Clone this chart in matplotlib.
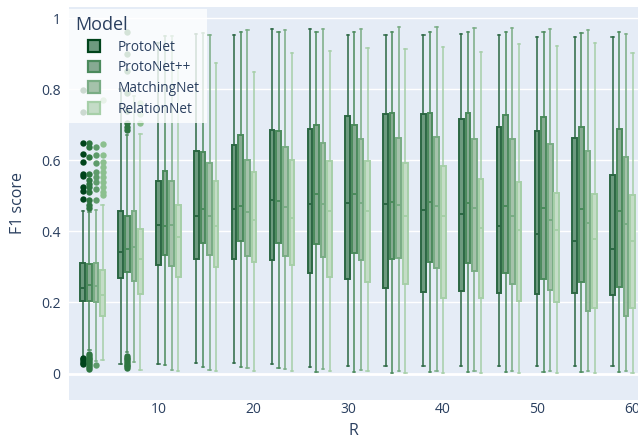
import matplotlib
matplotlib.use("Agg")
import matplotlib.pyplot as plt
from matplotlib.patches import Patch, Rectangle
from matplotlib.legend_handler import HandlerPatch

plt.rcParams["font.family"] = ["Open Sans", "DejaVu Sans"]

# values (F1 score per R, one box per model)
R = [3, 7, 11, 15, 19, 23, 27, 31, 35, 39, 43, 47, 51, 55, 59]
models = ["ProtoNet", "ProtoNet++", "MatchingNet", "RelationNet"]

lo = {
    "ProtoNet":    [0.048, 0.027, 0.027, 0.030, 0.029, 0.027, 0.018, 0.020, 0.020, 0.020, 0.020, 0.020, 0.020, 0.020, 0.020],
    "ProtoNet++":  [0.065, 0.060, 0.023, 0.018, 0.018, 0.015, 0.004, 0.004, 0.003, 0.004, 0.004, 0.004, 0.004, 0.004, 0.004],
    "MatchingNet": [0.035, 0.032, 0.010, 0.010, 0.015, 0.014, 0.014, 0.011, 0.008, 0.008, 0.006, 0.006, 0.006, 0.006, 0.006],
    "RelationNet": [0.037, 0.010, 0.008, 0.008, 0.006, 0.008, 0.008, 0.006, 0.003, 0.003, 0.002, 0.001, 0.001, 0.001, 0.001],
}
q1 = {
    "ProtoNet":    [0.205, 0.270, 0.306, 0.323, 0.323, 0.320, 0.284, 0.267, 0.241, 0.229, 0.232, 0.226, 0.224, 0.226, 0.222],
    "ProtoNet++":  [0.205, 0.285, 0.334, 0.368, 0.372, 0.368, 0.364, 0.340, 0.321, 0.315, 0.312, 0.283, 0.267, 0.259, 0.243],
    "MatchingNet": [0.200, 0.261, 0.304, 0.334, 0.330, 0.331, 0.328, 0.320, 0.326, 0.297, 0.288, 0.253, 0.234, 0.177, 0.161],
    "RelationNet": [0.163, 0.224, 0.272, 0.301, 0.314, 0.306, 0.271, 0.257, 0.253, 0.213, 0.213, 0.204, 0.201, 0.185, 0.185],
}
med = {
    "ProtoNet":    [0.241, 0.343, 0.419, 0.444, 0.464, 0.489, 0.478, 0.481, 0.476, 0.461, 0.448, 0.416, 0.393, 0.372, 0.351],
    "ProtoNet++":  [0.250, 0.351, 0.416, 0.464, 0.472, 0.486, 0.504, 0.504, 0.483, 0.484, 0.480, 0.471, 0.467, 0.464, 0.456],
    "MatchingNet": [0.246, 0.356, 0.419, 0.442, 0.454, 0.470, 0.478, 0.480, 0.475, 0.471, 0.467, 0.442, 0.433, 0.424, 0.422],
    "RelationNet": [0.222, 0.323, 0.385, 0.416, 0.431, 0.438, 0.457, 0.457, 0.444, 0.444, 0.410, 0.405, 0.403, 0.379, 0.373],
}
q3 = {
    "ProtoNet":    [0.312, 0.458, 0.541, 0.625, 0.644, 0.685, 0.687, 0.725, 0.730, 0.729, 0.717, 0.695, 0.682, 0.664, 0.560],
    "ProtoNet++":  [0.307, 0.444, 0.571, 0.624, 0.672, 0.682, 0.700, 0.698, 0.733, 0.733, 0.733, 0.727, 0.722, 0.694, 0.689],
    "MatchingNet": [0.312, 0.457, 0.541, 0.591, 0.602, 0.637, 0.649, 0.661, 0.663, 0.665, 0.661, 0.659, 0.647, 0.625, 0.608],
    "RelationNet": [0.290, 0.407, 0.473, 0.541, 0.567, 0.602, 0.598, 0.597, 0.591, 0.583, 0.548, 0.540, 0.509, 0.506, 0.503],
}
hi = {
    "ProtoNet":    [0.456, 0.800, 0.930, 0.955, 0.952, 0.968, 0.968, 0.952, 0.952, 0.951, 0.954, 0.951, 0.947, 0.946, 0.946],
    "ProtoNet++":  [0.455, 0.670, 0.950, 0.957, 0.961, 0.962, 0.962, 0.962, 0.962, 0.962, 0.962, 0.962, 0.960, 0.957, 0.962],
    "MatchingNet": [0.460, 0.780, 0.950, 0.952, 0.966, 0.966, 0.968, 0.968, 0.974, 0.974, 0.971, 0.971, 0.969, 0.966, 0.955],
    "RelationNet": [0.473, 0.675, 0.860, 0.875, 0.849, 0.903, 0.908, 0.915, 0.912, 0.919, 0.905, 0.926, 0.921, 0.929, 0.903],
}
# outliers only show up for the two smallest R
outliers = {
    "ProtoNet": {
        3: [0.797, 0.735, 0.649, 0.619, 0.594, 0.562, 0.555, 0.525, 0.515, 0.490,
            0.044, 0.040, 0.036, 0.031, 0.028],
    },
    "ProtoNet++": {
        3: [0.649, 0.637, 0.609, 0.562, 0.544, 0.534, 0.525, 0.511, 0.487, 0.473, 0.467,
            0.056, 0.050, 0.045, 0.040, 0.035, 0.030, 0.024, 0.018, 0.014],
        7: [0.960, 0.900, 0.850, 0.790, 0.740, 0.705, 0.695, 0.685,
            0.050, 0.045, 0.040, 0.035, 0.030, 0.025, 0.020, 0.015],
    },
    "MatchingNet": {
        3: [0.637, 0.615, 0.591, 0.567, 0.553, 0.539, 0.520, 0.487, 0.025],
    },
    "RelationNet": {
        3: [0.770, 0.647, 0.614, 0.595, 0.581, 0.567, 0.553, 0.539, 0.525, 0.511, 0.501],
        7: [0.760, 0.730, 0.704],
    },
}

line_colors = ["#2b6743", "#4b8a5c", "#79ac84", "#a6cfa8"]
fill_colors = ["#6d9a7f", "#86aa92", "#a5c2ab", "#c4dcc7"]
dot_colors = ["#00441b", "#2e7541", "#5e9b6b", "#8cc08f"]
offsets = [-1.05, -0.35, 0.35, 1.05]
text_color = "#2a3f5f"

fig = plt.figure(figsize=(6.38, 4.41), dpi=100)
ax = fig.add_axes([0.108, 0.094, 0.892, 0.890])
ax.set_facecolor("#e5ecf6")

for i, m in enumerate(models):
    stats = []
    for j, r in enumerate(R):
        stats.append({
            "whislo": lo[m][j], "q1": q1[m][j], "med": med[m][j],
            "q3": q3[m][j], "whishi": hi[m][j],
            "fliers": outliers[m].get(r, []),
        })
    pos = [r + offsets[i] for r in R]
    ax.bxp(stats, positions=pos, widths=0.49, patch_artist=True,
           showfliers=True, manage_ticks=False, zorder=3,
           boxprops=dict(facecolor=fill_colors[i], edgecolor=line_colors[i], linewidth=1.4),
           whiskerprops=dict(color=line_colors[i], linewidth=1.1),
           capprops=dict(color=line_colors[i], linewidth=1.1),
           medianprops=dict(color=line_colors[i], linewidth=1.4),
           flierprops=dict(marker="o", markersize=4.6, markerfacecolor=dot_colors[i],
                           markeredgecolor="none", linestyle="none"))

ax.set_xlim(0.49, 60.63)
ax.set_ylim(-0.073, 1.031)

yt = [0, 0.2, 0.4, 0.6, 0.8, 1]
ax.set_yticks(yt)
ax.set_yticklabels(["0", "0.2", "0.4", "0.6", "0.8", "1"])
ax.set_xticks([10, 20, 30, 40, 50, 60])
ax.set_xticklabels(["10", "20", "30", "40", "50", "60"])
ax.tick_params(axis="both", length=0, labelsize=10, labelcolor=text_color)
ax.tick_params(axis="y", pad=6)
ax.tick_params(axis="x", pad=2)

for v in yt[1:]:
    ax.axhline(v, color="white", linewidth=1, zorder=1)
ax.axhline(0, color="white", linewidth=2, zorder=1)

for s in ax.spines.values():
    s.set_visible(False)

ax.set_xlabel("R", fontsize=11.5, color=text_color, labelpad=4)
ax.set_ylabel("F1 score", fontsize=11.5, color=text_color, labelpad=11)


def square_patch(legend, orig_handle, xdescent, ydescent, width, height, fontsize):
    # square sits at the right end of the handle slot, like plotly's legend
    return Rectangle((-xdescent + width - height, -ydescent), height, height)


handles = [Patch(facecolor=fill_colors[i], edgecolor=(dot_colors[i] if i == 0 else line_colors[i]),
                 linewidth=1.6, label=m) for i, m in enumerate(models)]
leg = ax.legend(handles=handles, title="Model", loc="upper left", bbox_to_anchor=(0.0, 0.995),
                fontsize=9.8, title_fontsize=13, frameon=True, fancybox=False,
                framealpha=0.8, edgecolor="none", facecolor="white",
                handlelength=1.75, handleheight=0.95, handletextpad=1.35,
                labelspacing=0.42, borderpad=0.5, borderaxespad=0.0,
                alignment="left", labelcolor=text_color,
                handler_map={Patch: HandlerPatch(patch_func=square_patch)})
leg.get_title().set_color(text_color)
leg.set_zorder(5)

fig.savefig("out.png", dpi=100, facecolor="white")
